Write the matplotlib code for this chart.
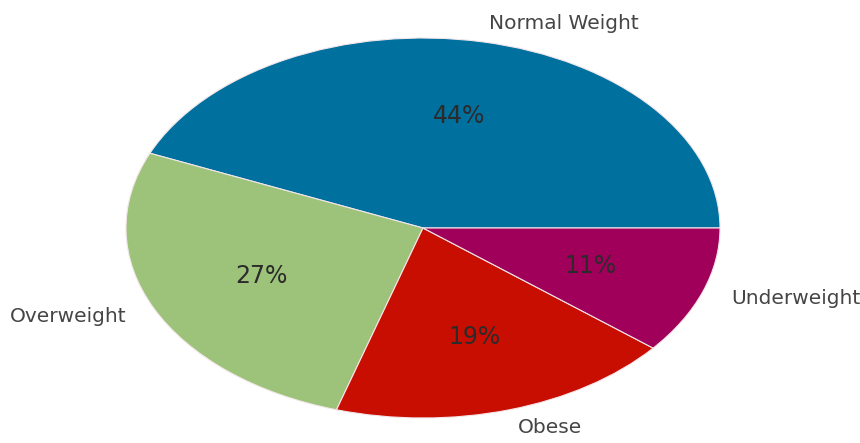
import matplotlib.pyplot as plt

# BMI category shares
categorias = ["Normal Weight", "Overweight", "Obese", "Underweight"]
valores = [44, 27, 19, 11]
colores = ["#00709f", "#9dc37a", "#c80e00", "#a1005a"]

plt.rcParams["font.family"] = ["DejaVu Sans"]

fig = plt.figure(figsize=(8.6, 4.43), dpi=100)
ax = fig.add_axes([0, 0, 1, 1])

wedges, textos, pcts = ax.pie(valores, labels=categorias, colors=colores,
                              autopct="%1.0f%%", startangle=0,
                              labeldistance=1.1, pctdistance=0.6,
                              wedgeprops={"edgecolor": "#f3e6ea", "linewidth": 0.8},
                              textprops={"fontsize": 14.5})
for t in textos:
    t.set_color("#454545")
for p in pcts:
    p.set_color("#2b2b2b")
    p.set_fontsize(17)

# stretch the pie into a wide ellipse
ax.set_aspect("auto")
ax.set_xlim(-423 / 297, (860 - 423) / 297)
ax.set_ylim(-(443 - 228) / 190, 228 / 190)
ax.axis("off")

fig.savefig("out.png", dpi=100)
